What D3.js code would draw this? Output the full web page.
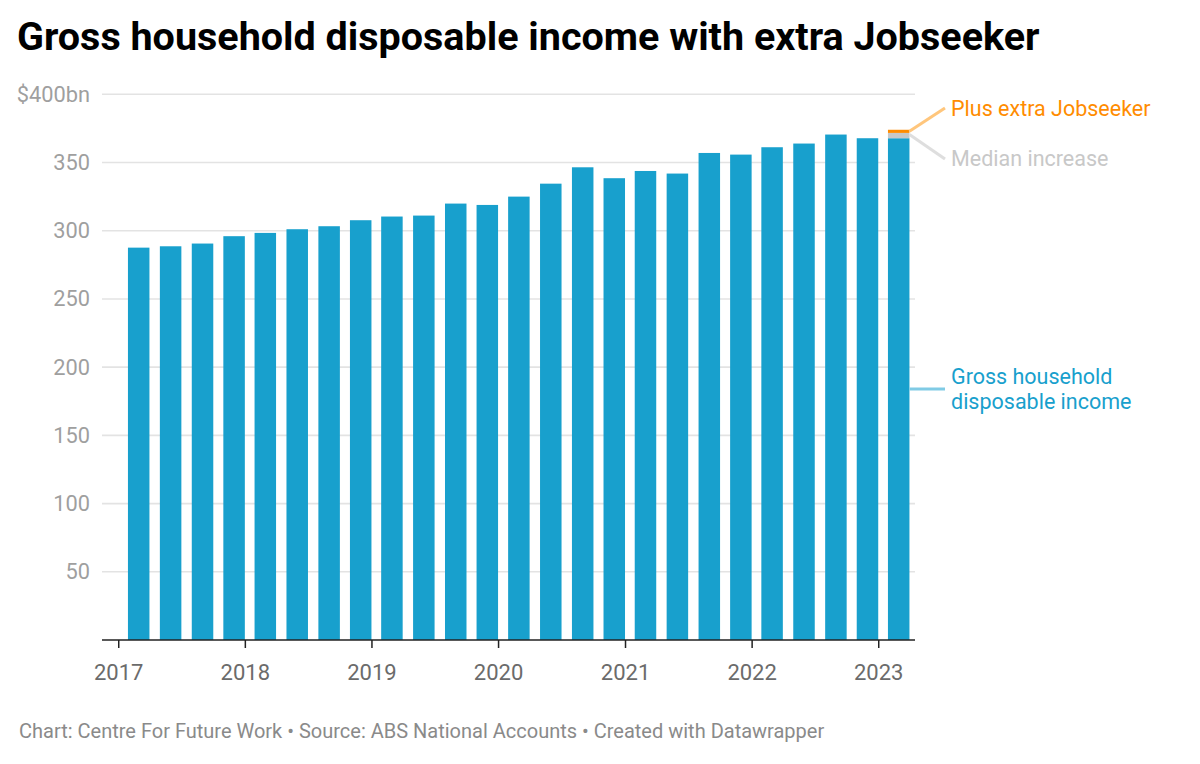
<!DOCTYPE html>
<html>
<head>
<meta charset="utf-8">
<script src="https://cdn.jsdelivr.net/npm/d3@7"></script>
<style>
  body { margin: 0; background: #fff; }
  svg { font-family: Roboto, "Noto Sans", sans-serif; }
</style>
</head>
<body>
<div class="container"></div>
<script>
// quarterly data, ABS national accounts ($bn)
var quarters = ["2017-03","2017-06","2017-09","2017-12","2018-03","2018-06","2018-09","2018-12",
  "2019-03","2019-06","2019-09","2019-12","2020-03","2020-06","2020-09","2020-12",
  "2021-03","2021-06","2021-09","2021-12","2022-03","2022-06","2022-09","2022-12","2023-03"];
var income = [287.6, 288.6, 290.6, 296.0, 298.4, 301.1, 303.3, 307.7, 310.4, 311.1, 319.9, 318.9,
  325.0, 334.5, 346.5, 338.5, 343.8, 341.9, 357.0, 355.8, 361.2, 363.9, 370.5, 367.8, 367.8];
var medianIncrease = [0,0,0,0,0,0,0,0,0,0,0,0,0,0,0,0,0,0,0,0,0,0,0,0, 3.9];
var extraJobseeker = [0,0,0,0,0,0,0,0,0,0,0,0,0,0,0,0,0,0,0,0,0,0,0,0, 2.3];
var yTicks = [50, 100, 150, 200, 250, 300, 350, 400];
var xTickYears = [2017, 2018, 2019, 2020, 2021, 2022, 2023];

var parseMonth = d3.timeParse("%Y-%m");
var rows = quarters.map(function(q, i) {
  return { date: parseMonth(q), income: income[i], median: medianIncrease[i], extra: extraJobseeker[i] };
});

var svg = d3.select(".container").append("svg")
  .attr("width", 1200).attr("height", 764);

svg.append("text")
  .attr("x", 17).attr("y", 50)
  .style("font-size", "39.5px").style("font-weight", "700").style("fill", "#000")
  .text("Gross household disposable income with extra Jobseeker");

var x = d3.scaleTime()
  .domain([parseMonth(quarters[0]), parseMonth(quarters[quarters.length - 1])])
  .range([138.7, 898.7]);
var y = d3.scaleLinear().domain([0, 400]).range([640, 94.3]);
var barW = 21.5;
var left = 102, right = 915;

// grid
svg.selectAll(".grid").data(yTicks).enter().append("line")
  .attr("x1", left).attr("x2", right)
  .attr("y1", function(d) { return y(d); }).attr("y2", function(d) { return y(d); })
  .style("stroke", "#e3e3e3").style("stroke-width", 1.6);

svg.selectAll(".ylab").data(yTicks).enter().append("text")
  .attr("x", 90).attr("y", function(d) { return y(d) + 7.5; })
  .attr("text-anchor", "end")
  .style("font-size", "21.8px").style("fill", "#9f9f9f")
  .text(function(d) { return d === 400 ? "$400bn" : d; });

// stacked bars
var stack = d3.stack().keys(["income", "median", "extra"]);
var colors = { income: "#18a0cd", median: "#c8c8c8", extra: "#ff8c00" };
var layers = svg.selectAll(".layer").data(stack(rows)).enter().append("g")
  .style("fill", function(d) { return colors[d.key]; });
layers.selectAll("rect").data(function(d) { return d; }).enter().append("rect")
  .filter(function(d) { return d[1] > d[0]; })
  .attr("x", function(d) { return x(d.data.date) - barW / 2; })
  .attr("width", barW)
  .attr("y", function(d) { return y(d[1]); })
  .attr("height", function(d) { return y(d[0]) - y(d[1]); });

// x axis
var xAxis = d3.axisBottom(x)
  .tickValues(xTickYears.map(function(yr) { return new Date(yr, 0, 1); }))
  .tickFormat(d3.timeFormat("%Y"))
  .tickSize(8).tickSizeOuter(0);
var gx = svg.append("g").attr("transform", "translate(0,640)").call(xAxis);
gx.select(".domain").remove();
gx.selectAll(".tick line").style("stroke", "#222").style("stroke-width", 1.5);
gx.selectAll(".tick text").attr("y", 24)
  .style("font-size", "22px").style("fill", "#6b6b6b").style("font-family", "Roboto, sans-serif");
svg.append("line").attr("x1", left).attr("x2", right).attr("y1", 640).attr("y2", 640)
  .style("stroke", "#222").style("stroke-width", 1.6);

// annotations on the last bar
var last = rows[rows.length - 1];
var lx = x(last.date) + barW / 2;
var topExtra = y(last.income + last.median + last.extra);
var topMedian = y(last.income + last.median);

svg.append("line").attr("x1", lx).attr("y1", topExtra + 1.5).attr("x2", 945).attr("y2", 108)
  .style("stroke", "#ffc67c").style("stroke-width", 3);
svg.append("line").attr("x1", lx).attr("y1", topMedian + 1.5).attr("x2", 945).attr("y2", 159)
  .style("stroke", "#dedede").style("stroke-width", 3);
svg.append("line").attr("x1", lx).attr("y1", 389).attr("x2", 945).attr("y2", 389)
  .style("stroke", "#80cbe5").style("stroke-width", 3);

svg.append("text").attr("x", 951).attr("y", 116)
  .style("font-size", "21.5px").style("fill", "#ff8c00").text("Plus extra Jobseeker");
svg.append("text").attr("x", 951).attr("y", 166)
  .style("font-size", "21.5px").style("fill", "#c8c8c8").text("Median increase");
var g = svg.append("text").attr("x", 951).attr("y", 384)
  .style("font-size", "21.5px").style("fill", "#18a0cd");
g.append("tspan").attr("x", 951).text("Gross household");
g.append("tspan").attr("x", 951).attr("dy", 25).text("disposable income");

svg.append("text").attr("x", 19).attr("y", 738)
  .style("font-size", "20px").style("fill", "#8a8a8a")
  .text("Chart: Centre For Future Work \u2022 Source: ABS National Accounts \u2022 Created with Datawrapper");
</script>
</body>
</html>
